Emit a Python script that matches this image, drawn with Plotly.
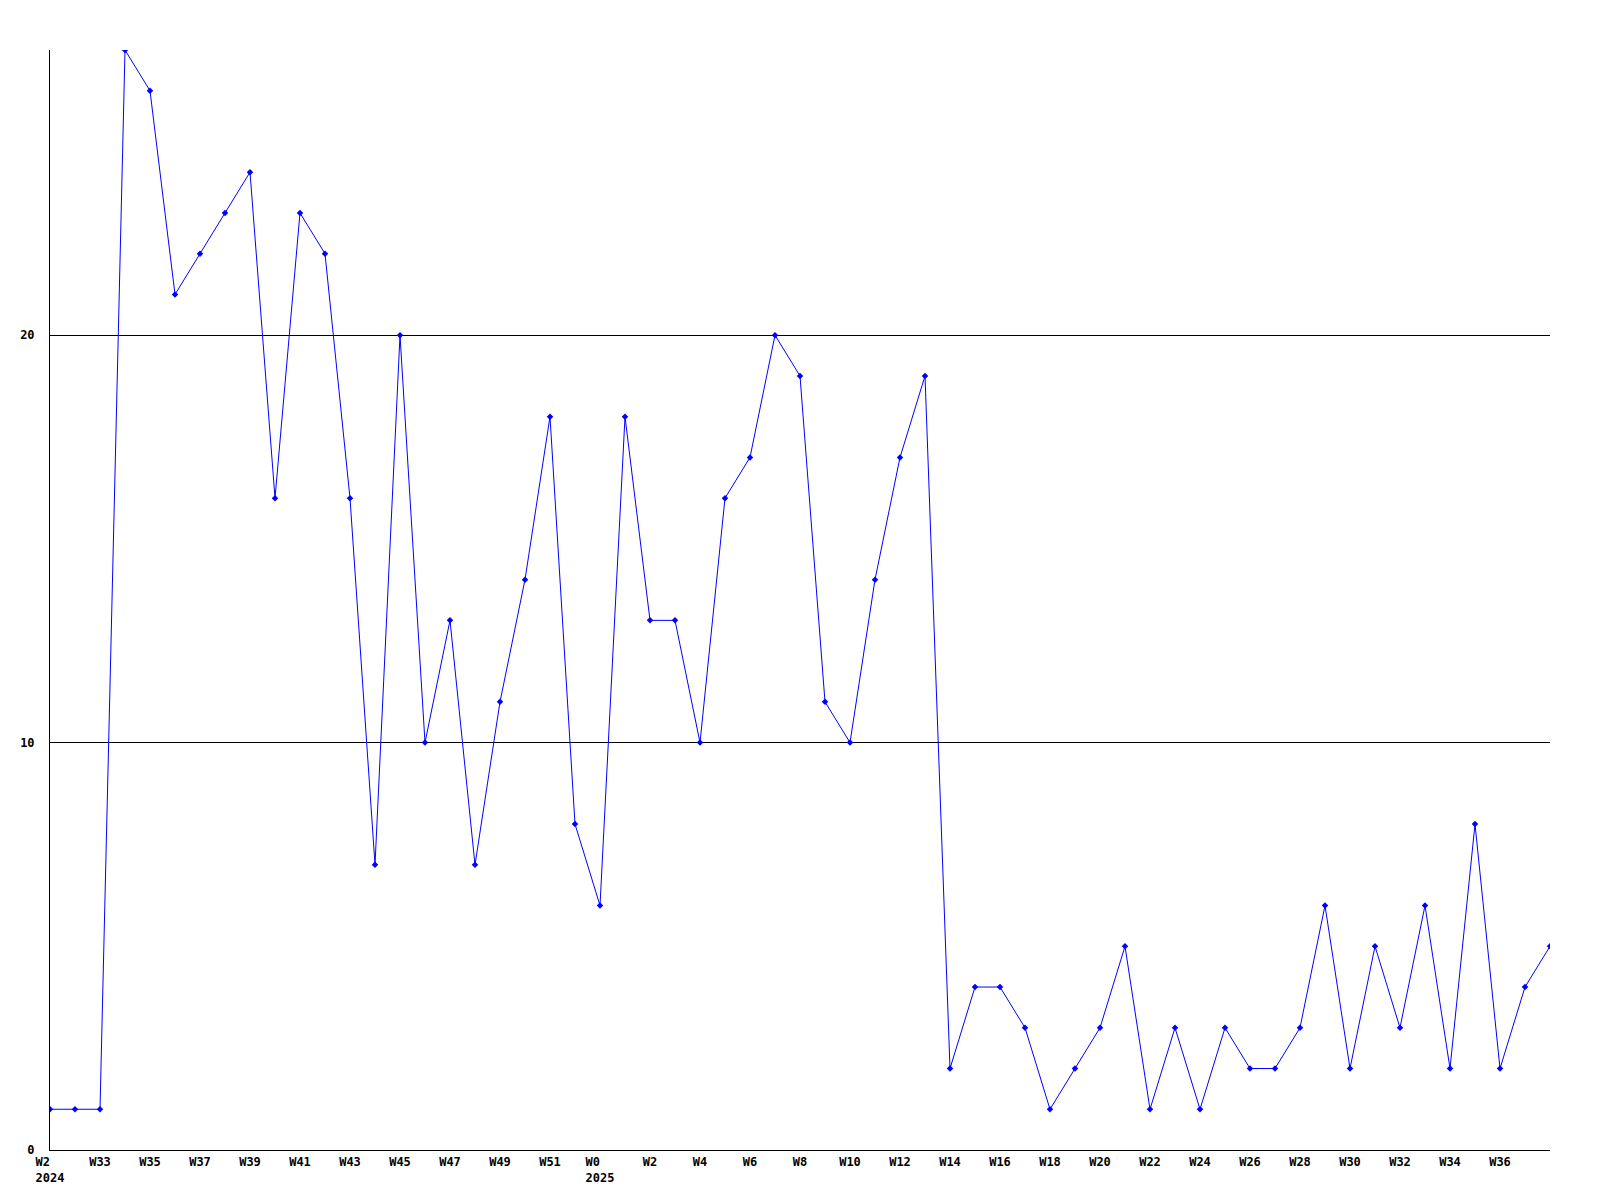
import plotly.graph_objects as go

weeks = ["W2", "W32", "W33", "W34", "W35", "W36", "W37", "W38", "W39", "W40",
         "W41", "W42", "W43", "W44", "W45", "W46", "W47", "W48", "W49", "W50",
         "W51", "W52", "W0", "W1", "W2", "W3", "W4", "W5", "W6", "W7",
         "W8", "W9", "W10", "W11", "W12", "W13", "W14", "W15", "W16", "W17",
         "W18", "W19", "W20", "W21", "W22", "W23", "W24", "W25", "W26", "W27",
         "W28", "W29", "W30", "W31", "W32", "W33", "W34", "W35", "W36", "W37",
         "W38"]
years = {0: "2024", 22: "2025"}
values = [1, 1, 1, 27, 26, 21, 22, 23, 24, 16,
          23, 22, 16, 7, 20, 10, 13, 7, 11, 14,
          18, 8, 6, 18, 13, 13, 10, 16, 17, 20,
          19, 11, 10, 14, 17, 19, 2, 4, 4, 3,
          1, 2, 3, 5, 1, 3, 1, 3, 2, 2,
          3, 6, 2, 5, 3, 6, 2, 8, 2, 4,
          5]
y_ticks = [0, 10, 20]

x = list(range(len(values)))
tickvals = x[0:len(x) - 1:2]


def label(i):
    w = weeks[i]
    if i in years:
        y = years[i]
        pad = "&nbsp;" * max(0, len(y) - len(w))
        return w + pad + "<br>" + y
    return w


ticktext = [label(i) for i in tickvals]

fig = go.Figure()
fig.add_trace(go.Scatter(
    x=x, y=values, mode="lines+markers",
    line=dict(color="#0000FF", width=1),
    marker=dict(symbol="diamond", size=5, color="#0000FF"),
    cliponaxis=True,
    showlegend=False,
))

font = dict(family="DejaVu Sans Mono", size=12, color="#000000", weight="bold")
fig.update_layout(
    width=1600, height=1200,
    margin=dict(l=42, r=58, t=42, b=58),
    paper_bgcolor="white", plot_bgcolor="white",
    font=font,
    xaxis=dict(range=[0, 60], tickvals=tickvals, ticktext=ticktext,
               showgrid=False, zeroline=False, showline=True,
               linecolor="black", linewidth=1,
               ticks="outside", ticklen=1, tickcolor="rgba(0,0,0,0)",
               tickfont=font, tickangle=0),
    yaxis=dict(range=[0, 27], tickvals=y_ticks,
               showgrid=True, gridcolor="black", gridwidth=1,
               zeroline=False, showline=True, linecolor="black", linewidth=1,
               ticks="outside", ticklen=12, tickcolor="rgba(0,0,0,0)",
               tickfont=font),
)
fig.write_html("out.html")
